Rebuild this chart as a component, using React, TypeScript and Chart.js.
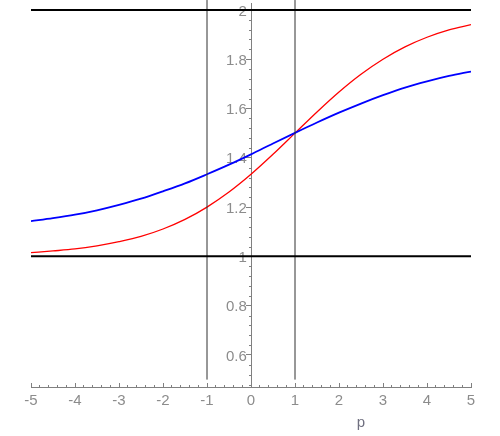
import React, { useEffect, useRef } from "react";
import { Chart, registerables } from "chart.js";

Chart.register(...registerables);

// x values (p)
const pValues = [-5, -4.5, -4, -3.5, -3, -2.5, -2, -1.5, -1, -0.5, 0, 0.5, 1, 1.5, 2, 2.5, 3, 3.5, 4, 4.5, 5];
// red curve
const redValues = [1.015, 1.022, 1.03, 1.043, 1.06, 1.081, 1.111, 1.15, 1.2, 1.261, 1.333, 1.414, 1.5, 1.586, 1.667, 1.739, 1.8, 1.85, 1.889, 1.919, 1.94];
// blue curve
const blueValues = [1.143, 1.155, 1.169, 1.187, 1.209, 1.234, 1.264, 1.296, 1.333, 1.372, 1.414, 1.458, 1.501, 1.543, 1.583, 1.62, 1.654, 1.685, 1.71, 1.732, 1.75];
// reference lines
const horizontalLevels = [1, 2];
const verticalPositions = [-1, 1];
const verticalSpan = [0.5, 2.04];
// axes
const xRange = [-5, 5];
const yRange = [0.47, 2.028];
const xTickStep = 1;
const yTickStep = 0.2;
const xMinorStep = 0.2;
const yMinorStep = 0.04;
const xAxisLabel = "p";

const FONT = "'Liberation Sans', Arial, sans-serif";
const AXIS_COLOR = "#808080";
const LABEL_COLOR = "#8c8c8c";

const extrasPlugin = {
  id: "extras",
  afterDraw(chart: any) {
    const { ctx, chartArea } = chart;
    const xs = chart.scales.x;
    const ys = chart.scales.y;
    ctx.save();
    ctx.strokeStyle = AXIS_COLOR;
    ctx.lineWidth = 1;
    const x0 = Math.floor(xs.getPixelForValue(0)) + 0.5;
    const yb = Math.floor(chartArea.bottom) + 0.5;
    ctx.beginPath();
    // y minor ticks
    const nY = Math.round((yRange[1] - 0.48) / yMinorStep);
    for (let i = 0; i <= nY; i++) {
      const v = Math.round((0.48 + i * yMinorStep) * 100) / 100;
      if (v > yRange[1]) break;
      const isMajor = Math.abs(v / yTickStep - Math.round(v / yTickStep)) < 1e-6;
      if (isMajor) continue;
      const py = Math.round(ys.getPixelForValue(v)) + 0.5;
      ctx.moveTo(x0 - 0.5, py);
      ctx.lineTo(x0 - 2.5, py);
    }
    // x ticks (upwards)
    const nX = Math.round((xRange[1] - xRange[0]) / xMinorStep);
    for (let i = 0; i <= nX; i++) {
      const v = xRange[0] + i * xMinorStep;
      const isMajor = Math.abs(v - Math.round(v)) < 1e-6;
      const px = Math.floor(xs.getPixelForValue(v)) + 0.5;
      ctx.moveTo(px, yb - 0.5);
      ctx.lineTo(px, yb - (isMajor ? 4.5 : 2.5));
    }
    ctx.stroke();
    // axis label
    ctx.fillStyle = "#707080";
    ctx.font = `15px ${FONT}`;
    ctx.textAlign = "center";
    ctx.textBaseline = "alphabetic";
    ctx.fillText(xAxisLabel, chartArea.left + 0.75 * (chartArea.right - chartArea.left), chartArea.bottom + 40);
    ctx.restore();
  },
};

export default function App() {
  const ref = useRef<HTMLCanvasElement | null>(null);
  useEffect(() => {
    if (!ref.current) return;
    const lineDatasets: any[] = [];
    horizontalLevels.forEach((lv) => {
      lineDatasets.push({
        data: [{ x: xRange[0], y: lv }, { x: xRange[1], y: lv }],
        borderColor: "#000000",
        borderWidth: 2,
        pointRadius: 0,
      });
    });
    verticalPositions.forEach((pv) => {
      lineDatasets.push({
        data: [{ x: pv, y: verticalSpan[0] }, { x: pv, y: verticalSpan[1] }],
        borderColor: "#303030",
        borderWidth: 1,
        pointRadius: 0,
        clip: false,
      });
    });
    const chart = new Chart(ref.current, {
      type: "line",
      data: {
        datasets: [
          ...lineDatasets,
          {
            data: pValues.map((p, i) => ({ x: p, y: blueValues[i] })),
            borderColor: "#0000ff",
            borderWidth: 1.8,
            pointRadius: 0,
            cubicInterpolationMode: "monotone",
          },
          {
            data: pValues.map((p, i) => ({ x: p, y: redValues[i] })),
            borderColor: "#ff0000",
            borderWidth: 1.3,
            pointRadius: 0,
            cubicInterpolationMode: "monotone",
          },
        ],
      },
      options: {
        responsive: false,
        animation: false,
        events: [],
        layout: { padding: { left: 31, right: 29, top: 3, bottom: 0 } },
        plugins: { legend: { display: false }, tooltip: { enabled: false } },
        scales: {
          x: {
            type: "linear",
            position: "bottom",
            min: xRange[0],
            max: xRange[1],
            grid: { display: false, drawTicks: false },
            border: { display: true, color: AXIS_COLOR, width: 1 },
            ticks: {
              stepSize: xTickStep,
              autoSkip: false,
              maxRotation: 0,
              padding: 5,
              color: LABEL_COLOR,
              font: { family: FONT, size: 15 },
              callback: (v: any) => String(Math.round(Number(v))),
            },
            afterFit: (s: any) => {
              s.height = 49;
              s.paddingLeft = 0;
              s.paddingRight = 0;
            },
          },
          y: {
            type: "linear",
            position: { x: 0 } as any,
            min: yRange[0],
            max: yRange[1],
            grid: { display: true, drawOnChartArea: false, drawTicks: true, tickLength: 5, color: AXIS_COLOR },
            border: { display: true, color: AXIS_COLOR, width: 1 },
            ticks: {
              stepSize: yTickStep,
              includeBounds: false,
              autoSkip: false,
              labelOffset: 1.5,
              color: LABEL_COLOR,
              font: { family: FONT, size: 15 },
              callback: (v: any) => String(Number(Number(v).toFixed(2))) + " ",
            },
            afterFit: (s: any) => {
              s.paddingTop = 0;
              s.paddingBottom = 0;
            },
          },
        },
      },
      plugins: [extrasPlugin],
    } as any);
    return () => chart.destroy();
  }, []);
  return (
    <div style={{ position: "absolute", left: 0, top: 0, width: 500, height: 436, background: "#fff" }}>
      <canvas ref={ref} width={500} height={436} style={{ width: 500, height: 436, display: "block" }} />
    </div>
  );
}
